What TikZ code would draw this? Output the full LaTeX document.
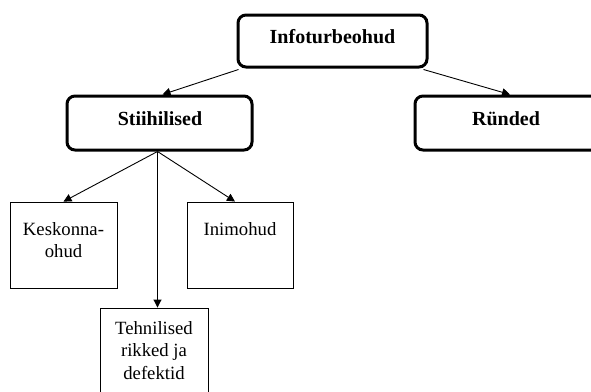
\documentclass[tikz,border=0pt]{standalone}
\usepackage{fontspec}
\setmainfont{Liberation Serif}
\usetikzlibrary{arrows.meta}
\begin{document}
\begin{tikzpicture}[x=1pt,y=-1pt,
  mainbox/.style={draw=black, line width=3pt, rounded corners=8pt, fill=white, inner sep=0pt},
  subbox/.style={draw=black, line width=0.9pt, fill=white, inner sep=0pt},
  headtext/.style={inner sep=0pt, anchor=base, font=\fontsize{20}{24}\selectfont\bfseries},
  bodytext/.style={inner sep=0pt, anchor=north, align=center, font=\fontsize{18.7}{22.5}\selectfont},
  link/.style={draw=black, line width=0.9pt},
  arrowlink/.style={link, -{Triangle[length=8pt,width=8pt]}}]
  \useasboundingbox (0,0) rectangle (591,391);

  % top level and first-level categories
  \node[mainbox, minimum width=189pt, minimum height=52pt] (info) at (332.5,41) {};
  \node[headtext] (infotxt) at (332.5,43) {Infoturbeohud};
  \node[mainbox, minimum width=185pt, minimum height=54pt] (stii) at (159.5,123) {};
  \node[headtext] (stiitxt) at (160,125) {Stiihilised};
  \node[mainbox, minimum width=190pt, minimum height=54pt] (rund) at (510,123) {};
  \node[headtext] (rundtxt) at (506,125) {Ründed};

  % subcategories of natural threats
  \node[subbox, minimum width=107pt, minimum height=86pt] (kesk) at (63.5,245) {};
  \node[bodytext] (kesktxt) at (63.5,222) {Keskonna-\\ohud};
  \node[subbox, minimum width=106pt, minimum height=86pt] (inim) at (240,245) {};
  \node[bodytext] (inimtxt) at (240,222) {Inimohud};
  \node[subbox, minimum width=108pt, minimum height=92pt] (tehn) at (154,354) {};
  \node[bodytext] (tehntxt) at (154,321) {Tehnilised\\rikked ja\\defektid};

  % connectors
  \draw[arrowlink] ([xshift=2pt,yshift=-1pt]info.south west) -- ([xshift=3pt]stii.north);
  \draw[arrowlink] ([xshift=-5pt,yshift=-1pt]info.south east) -- (rund.north);
  \draw[arrowlink] ([xshift=-2pt]stii.south) -- (kesk.north);
  \draw[arrowlink] ([xshift=-2pt]stii.south) -- ([xshift=-5pt]inim.north);
  \draw[arrowlink] ([xshift=-2pt]stii.south) -- ([xshift=-2pt]stii.south |- tehn.north);
\end{tikzpicture}
\end{document}
